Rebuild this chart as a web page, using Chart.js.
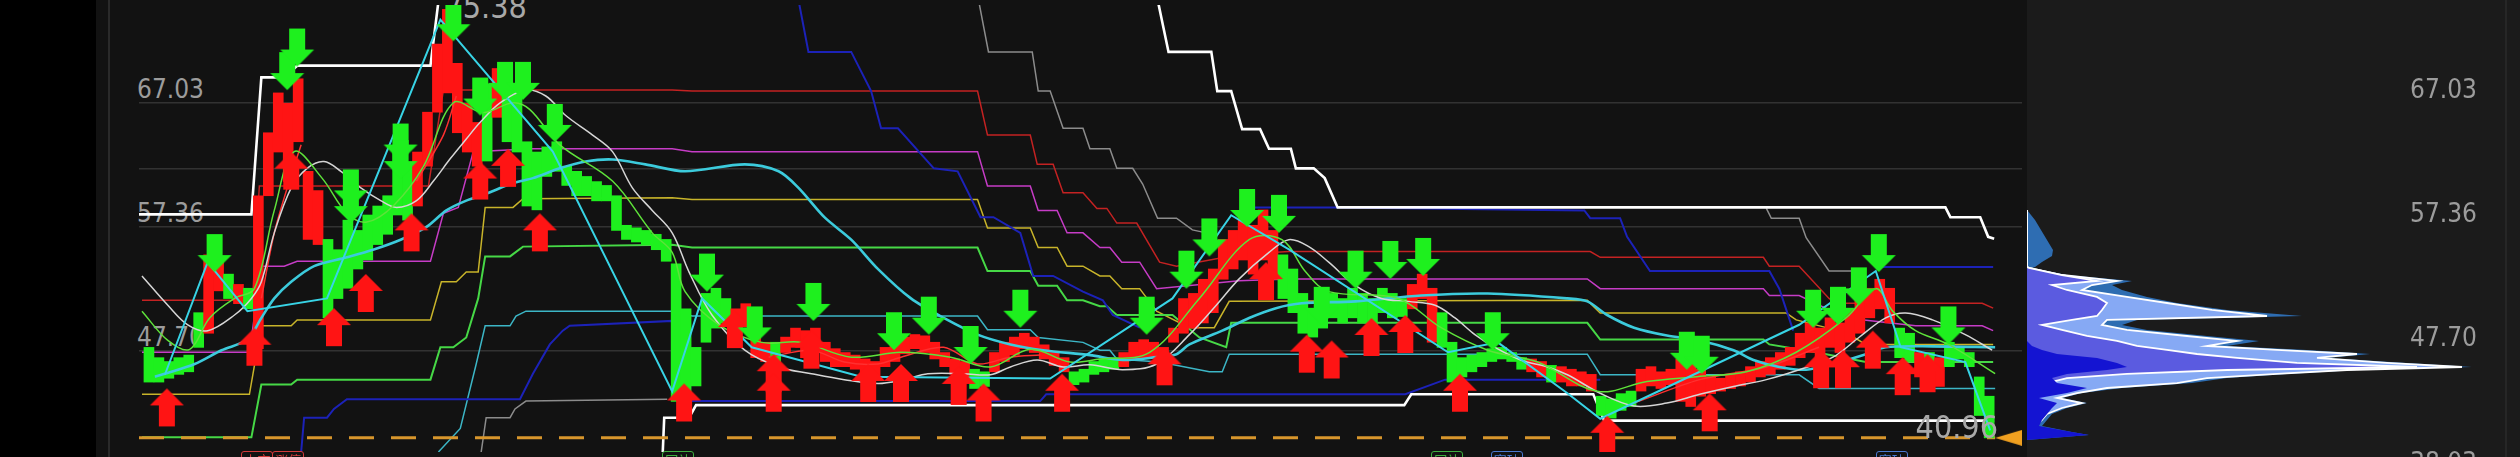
<!DOCTYPE html>
<html>
<head>
<meta charset="utf-8">
<script src="https://cdn.jsdelivr.net/npm/chart.js@4.4.0/dist/chart.umd.min.js"></script>
<style>
  html, body { margin: 0; padding: 0; background: #121212; width: 2520px; height: 457px; overflow: hidden; }
  #band { position: absolute; left: 0; top: 0; width: 96px; height: 457px; background: #000; }
  #edge { position: absolute; left: 108px; top: 0; width: 2px; height: 457px; background: #2a2a2a; }
  #mainBox { position: absolute; left: 134px; top: 0; width: 1893px; height: 457px; z-index: 1; }
  #profBox { position: absolute; left: 2027px; top: 0; width: 493px; height: 457px; background: #1b1b1b; }
  #rline { position: absolute; left: 2505px; top: 0; width: 2px; height: 457px; background: #262626; z-index: 2; }
  .lvl { position: absolute; font-family: "Liberation Sans Narrow", "DejaVu Sans Condensed", Roboto, sans-serif;
         font-size: 26px; line-height: 26px; color: #9c9c9c; white-space: nowrap; z-index: 0; }
  .right { z-index: 2; text-align: right; right: 43px; }
  .big { font-size: 32px; line-height: 32px; color: #a8a8a8; }
  .tag { position: absolute; top: 451px; height: 16px; font: 13px "Noto Sans CJK SC"; line-height: 15px;
         border: 1.5px solid; border-radius: 3px; padding: 0 2px; z-index: 2; }
</style>
</head>
<body>
<div id="band"></div>
<div id="edge"></div>
<div id="profBox"><canvas id="profile"></canvas></div>
<div id="rline"></div>
<div id="mainBox"><canvas id="chart"></canvas></div>
<script>
// price scale shown in the window
const priceMin = 39.86;
const priceMax = 74.64;
const gridLevels = [67.03, 61.93, 57.36, 47.70];
const axisLabels = [67.03, 57.36, 47.70, 38.03];
const peakLabel = { t: 30.7, v: 75.38 };
const lowLabel = { t: 178.6, v: 40.96 };
const lastPrice = 40.96;

// candles, bar n is at t = n + 1
const candleOpen = [
  48.0, 47.2, 46.9, 47.2, 47.4, 50.7, 49.1, 52.4, 53.7, 51.4,
  52.6, 47.9, 59.8, 63.2, 60.9, 64.0, 56.4, 56.0, 56.4, 55.6,
  57.9, 57.1, 58.3, 59.0, 59.8, 63.6, 62.1, 59.0, 62.1, 66.3,
  67.8, 64.7, 63.2, 62.1, 68.5, 65.9, 69.3, 68.2, 64.0, 63.2,
  63.6, 64.0, 62.1, 61.7, 61.3, 60.9, 60.6, 59.8, 57.5, 57.3,
  57.1, 56.8, 56.4, 54.5, 51.0, 48.0, 52.2, 52.6, 51.8, 49.5,
  49.9, 47.2, 46.9, 48.4, 47.6, 48.0, 47.2, 47.6, 46.9, 46.5,
  46.5, 46.3, 45.7, 45.6, 46.5, 46.9, 47.5, 47.9, 47.6, 47.1,
  46.5, 45.9, 45.6, 46.3, 46.1, 46.1, 46.9, 47.4, 47.9, 47.6,
  47.1, 46.6, 46.1, 46.1, 46.3, 46.9, 47.1, 47.2, 46.5, 47.1,
  47.2, 47.2, 46.9, 48.4, 49.1, 49.5, 49.9, 50.7, 53.3, 54.1,
  54.8, 53.7, 54.8, 53.3, 55.2, 54.1, 52.2, 51.0, 51.8, 52.2,
  51.8, 52.6, 52.2, 51.8, 52.6, 52.2, 51.8, 51.0, 51.8, 48.4,
  50.7, 48.4, 47.2, 47.4, 47.6, 47.9, 48.0, 47.6, 47.2, 46.1,
  45.7, 46.6, 45.3, 45.0, 45.0, 44.6, 44.2, 44.0, 44.4, 44.6,
  44.6, 45.0, 44.8, 45.1, 43.8, 43.4, 44.2, 44.4, 44.6, 44.8,
  45.0, 45.3, 45.7, 45.9, 46.3, 46.6, 47.2, 47.6, 47.2, 48.0,
  47.6, 48.4, 49.1, 50.3, 51.0, 49.9, 49.5, 49.1, 45.7, 47.6,
  44.96, 48.4, 48.0, 47.6, 45.7, 44.2
];
const candleClose = [
  45.3, 45.3, 45.6, 45.9, 46.1, 48.0, 55.2, 54.7, 51.8, 52.9,
  51.0, 59.8, 64.7, 67.8, 67.0, 68.9, 61.7, 60.2, 50.3, 51.8,
  52.6, 54.1, 54.8, 56.0, 56.8, 58.3, 57.9, 63.2, 66.3, 71.6,
  74.3, 70.1, 67.0, 65.5, 62.5, 69.7, 64.0, 63.2, 59.0, 58.7,
  61.3, 61.7, 60.6, 59.8, 59.8, 59.4, 59.4, 57.1, 56.4, 56.2,
  56.0, 55.6, 54.7, 43.8, 44.2, 45.0, 48.4, 49.5, 49.9, 51.0,
  51.4, 48.8, 48.4, 46.9, 48.8, 49.5, 49.3, 49.5, 48.4, 47.9,
  47.6, 47.4, 47.1, 46.9, 48.0, 48.4, 48.8, 49.0, 48.9, 48.4,
  47.6, 47.1, 46.9, 44.8, 44.96, 47.6, 48.4, 48.8, 49.1, 48.8,
  48.2, 47.6, 47.2, 45.1, 45.3, 45.9, 46.1, 46.3, 47.6, 48.4,
  48.6, 48.4, 48.0, 49.5, 51.8, 52.2, 53.3, 54.1, 56.4, 57.1,
  58.3, 57.5, 58.7, 57.1, 51.8, 50.7, 49.1, 48.8, 49.5, 50.3,
  49.9, 50.3, 49.9, 49.5, 50.7, 50.3, 50.4, 52.9, 53.7, 52.6,
  48.0, 45.3, 45.7, 46.1, 46.5, 46.9, 47.1, 46.9, 46.3, 47.1,
  46.9, 45.3, 46.5, 46.3, 46.1, 45.9, 42.7, 42.5, 43.1, 43.4,
  46.3, 46.5, 46.1, 46.3, 47.1, 46.9, 46.3, 45.7, 45.6, 45.9,
  46.1, 46.5, 46.9, 47.2, 47.6, 48.0, 49.1, 49.9, 49.5, 50.3,
  49.9, 51.0, 52.2, 52.6, 53.3, 52.6, 47.2, 46.9, 47.6, 46.3,
  47.2, 46.5, 47.1, 46.5, 42.7, 40.96
];

// stepped level lines [t, price]
const redLevel = [[0.3,51.66],[11.4,51.66],[12.1,60.56],[29.1,60.56],[30.6,68.02],[53.6,68.02],[55.6,67.94],[84.3,67.94],
  [85.3,64.52],[89.6,64.52],[90.3,62.24],[91.9,62.24],[92.9,60.03],[94.9,60.03],[96.3,58.81],[97.3,58.81],[98.3,57.67],
  [100.3,57.67],[102.6,54.63],[104.3,54.32],[110.6,55.23],[115.6,55.46],[145.9,55.46],[146.9,55.01],[163.3,55.01],
  [163.9,54.32],[166.9,54.32],[169.9,51.81],[170.6,51.43],[185.3,51.43],[186.4,51.05]];
const magentaLevel = [[0.3,47.62],[11.1,47.62],[12.3,54.32],[14.6,54.32],[15.9,54.70],[29.3,54.70],[30.6,58.43],[32.1,58.89],
  [33.6,63.23],[39.6,63.45],[53.6,63.45],[55.6,63.23],[84.3,63.23],[85.3,60.56],[89.6,60.56],[90.4,58.66],[92.3,58.66],
  [93.3,56.91],[94.9,56.91],[96.6,55.77],[97.6,55.77],[98.8,54.63],[100.6,54.63],[102.3,52.57],[110.6,53.18],[115.6,53.33],
  [145.6,53.33],[146.9,52.57],[163.3,52.57],[163.9,52.04],[166.9,52.04],[171.6,50.29],[178.6,49.68],[185.3,49.68],[186.4,49.30]];
const yellowLevel = [[0.3,44.35],[11.1,44.35],[12.3,49.68],[15.3,49.68],[15.9,50.14],[29.3,50.14],[30.4,53.10],[31.9,53.10],
  [32.9,53.86],[34.1,53.86],[34.8,58.89],[37.6,58.89],[38.6,59.57],[53.6,59.65],[55.6,59.50],[84.3,59.50],[85.3,57.29],
  [89.6,57.29],[90.4,55.77],[92.3,55.77],[93.3,54.32],[94.9,54.32],[96.6,53.56],[97.6,53.56],[98.8,52.57],[100.6,52.57],
  [102.3,50.82],[105.6,49.53],[108.1,49.53],[109.6,51.58],[145.6,51.66],[146.9,50.67],[165.6,50.67],[166.6,50.14],
  [171.6,49.15],[173.6,48.23],[186.4,48.23]];
const greenLevel = [[0.3,41.00],[11.3,41.00],[12.3,45.11],[15.3,45.11],[15.9,45.49],[29.3,45.49],[30.3,48.01],[31.6,48.01],
  [32.9,48.77],[34.1,51.81],[34.8,55.08],[37.3,55.08],[38.6,55.84],[53.6,55.99],[55.6,55.77],[84.3,55.77],[85.3,53.94],
  [89.6,53.94],[90.4,52.80],[92.3,52.80],[93.3,51.66],[94.9,51.66],[96.6,51.20],[97.3,51.20],[98.3,50.52],[103.9,50.52],
  [106.6,48.77],[109.3,48.01],[109.8,49.91],[145.6,49.91],[146.9,48.61],[163.3,48.61],[163.9,48.23],[168.6,47.62],
  [173.6,46.86],[186.4,46.86]];
const tealLevel = [[30.1,39.86],[32.3,41.69],[33.9,46.71],[34.8,49.68],[37.3,49.68],[37.9,50.44],[38.9,50.82],[53.6,50.82],
  [55.6,50.44],[84.3,50.44],[85.3,49.37],[89.6,49.37],[90.4,48.77],[94.9,48.39],[96.6,47.78],[97.6,47.78],[98.3,47.09],
  [102.6,46.86],[107.6,46.10],[108.9,46.10],[109.6,47.47],[145.6,47.47],[146.9,45.87],[166.9,45.87],[168.9,44.81],[186.6,44.81]];
const blueLow = [[16.3,39.86],[16.6,42.53],[18.9,42.53],[19.6,43.21],[20.9,43.97],[38.3,43.97],[39.6,45.95],[41.3,48.23],
  [42.6,49.30],[43.3,49.68],[53.6,50.06],[54.1,43.82],[90.6,43.82],[91.2,44.35],[127.3,44.35],[131.3,45.49],[146.9,45.49]];
const blueHigh = [[66.3,75.02],[67.3,70.99],[71.6,70.99],[73.6,67.94],[74.6,65.05],[76.3,65.05],[79.9,61.93],[82.3,61.70],
  [84.6,58.13],[85.9,58.13],[88.6,56.91],[89.9,53.56],[91.9,53.56],[94.9,52.34],[96.9,51.66],[97.9,50.52],[100.6,49.53],
  [100.7,null],[111.3,58.89],[120.6,58.89],[145.3,58.66],[145.9,58.05],[148.9,58.05],[149.6,56.60],[151.9,53.94],
  [163.9,53.94],[164.9,52.57],[166.3,49.30],[166.4,null],[174.6,54.25],[186.4,54.25]];
const grayLevel = [[34.4,39.86],[34.9,42.53],[37.3,42.53],[37.8,43.21],[38.9,43.82],[53.1,43.97],[53.2,null],
  [84.4,75.02],[85.4,70.99],[89.8,70.99],[90.4,67.94],[91.6,67.94],[92.9,65.05],[94.9,65.05],[95.6,63.45],[97.6,63.45],
  [98.3,61.93],[99.9,61.93],[100.9,60.71],[102.4,58.05],[104.3,58.05],[105.9,57.14],[107.3,56.91],[107.4,null],
  [163.6,58.81],[164.1,58.05],[166.9,58.05],[167.6,56.53],[169.9,53.94],[173.6,53.94]];
const whiteHigh = [[0,58.35],[11.3,58.35],[12.3,69.01],[14.6,69.01],[15.9,69.92],[29.3,69.92],[30.3,76.16],[30.4,null],
  [102.1,76.16],[103.5,70.99],[107.8,70.99],[108.4,67.94],[109.8,67.94],[110.9,64.98],[112.7,64.98],[113.6,63.45],
  [115.8,63.45],[116.3,61.93],[118.1,61.93],[119.2,61.17],[120.5,58.89],[181.6,58.89],[182.1,58.13],[185.1,58.13],
  [185.9,56.60],[186.5,56.45]];
const whiteLow = [[52.6,38.87],[52.8,42.53],[55.3,42.53],[56.0,43.51],[127.2,43.51],[127.9,44.35],[146.2,44.35],
  [147.3,42.30],[186.5,42.30]];

// moving averages [t, price]
const cyanAvg = [[1.6,45.72],[2.6,45.95],[5.6,46.71],[8.3,47.78],[10.9,48.61],[12.3,50.29],[13.6,51.81],[15.3,53.10],
  [17.6,54.32],[20.9,55.01],[23.6,55.62],[26.3,56.38],[28.9,57.37],[30.9,58.66],[32.9,59.42],[34.9,59.95],[37.6,60.79],
  [39.6,61.17],[42.3,61.93],[44.9,62.46],[47.6,62.62],[50.9,62.24],[54.9,61.70],[60.9,62.24],[64.3,61.70],[66.3,60.41],
  [68.9,58.13],[71.6,56.38],[74.3,54.09],[77.6,51.81],[80.9,50.29],[84.3,48.99],[87.6,48.23],[90.9,47.78],[95.6,47.40],
  [98.9,47.02],[102.3,47.24],[104.3,47.47],[105.6,48.23],[108.9,49.30],[111.6,50.29],[114.3,51.05],[116.9,51.43],
  [122.3,51.58],[128.9,52.04],[135.6,52.19],[143.6,51.81],[145.6,51.58],[147.6,50.52],[150.3,49.53],[153.6,48.92],
  [156.9,48.54],[160.3,47.78],[162.3,47.02],[164.9,46.48],[167.6,46.26],[170.3,46.71],[173.6,47.47],[175.6,48.01],
  [180.3,48.08],[186.6,48.01]];
const whiteAvg = [[0.3,53.56],[2.9,51.28],[4.9,49.76],[6.9,49.30],[9.6,50.52],[11.3,51.81],[12.3,53.10],[13.6,56.91],
  [15.3,60.41],[16.9,61.93],[18.6,62.46],[20.3,61.70],[22.3,60.41],[24.3,59.42],[25.9,58.89],[27.9,59.42],[29.6,60.94],
  [31.3,62.69],[32.9,64.21],[34.3,65.51],[36.3,67.03],[38.9,68.02],[40.9,67.56],[42.9,66.04],[45.6,64.52],[47.6,63.23],
  [49.6,60.41],[51.6,58.66],[53.6,56.91],[55.3,53.86],[57.6,50.52],[60.9,47.78],[64.3,46.48],[67.6,45.95],[70.9,45.49],
  [74.3,45.19],[76.9,45.49],[79.3,45.95],[82.9,45.95],[85.6,45.87],[87.6,46.48],[90.3,47.02],[92.9,46.48],[95.6,46.64],
  [98.9,46.26],[102.3,46.71],[105.6,48.99],[108.3,51.28],[110.6,53.33],[113.6,55.39],[115.6,56.38],[117.6,55.84],
  [119.6,54.63],[122.3,52.80],[124.9,51.81],[127.6,51.58],[130.3,51.28],[132.3,50.29],[134.3,48.99],[136.3,48.01],
  [138.9,47.02],[141.6,46.48],[143.6,45.87],[146.9,44.43],[150.3,43.44],[153.6,43.67],[156.9,44.35],[160.3,44.96],
  [163.6,45.49],[166.9,46.26],[170.3,47.24],[172.9,48.77],[175.6,50.29],[177.6,50.67],[180.3,50.14],[183.6,48.99],
  [186.3,47.78]];
const greenAvg = [[0.3,50.82],[2.9,48.54],[5.1,47.85],[7.1,50.29],[9.6,51.81],[11.6,52.57],[13.6,58.66],[15.6,63.23],
  [18.4,61.17],[20.9,58.43],[22.9,57.75],[25.6,59.04],[28.6,62.08],[31.6,67.03],[34.6,66.27],[37.6,67.03],[39.3,66.50],
  [42.3,63.76],[47.6,60.94],[51.6,56.91],[53.6,55.39],[54.9,52.34],[58.3,49.76],[62.6,48.39],[66.6,48.39],[71.6,47.24],
  [76.6,47.62],[81.6,47.24],[85.6,46.48],[89.6,47.85],[93.6,46.86],[96.6,47.09],[101.6,47.62],[106.6,51.81],[111.6,56.38],
  [114.9,56.38],[117.3,53.86],[119.6,52.34],[126.6,51.81],[130.9,49.53],[135.6,47.78],[140.6,46.86],[146.6,44.58],
  [151.6,45.34],[156.6,45.72],[161.6,46.10],[166.6,47.62],[171.6,50.29],[174.6,52.57],[176.3,50.82],[178.6,49.30],
  [181.9,48.23],[186.6,45.95]];
const redAvg = [[12.3,51.81],[13.6,56.91],[14.9,60.41],[16.3,63.76],[16.4,null],[27.9,60.94],[30.6,64.52],[31.9,67.56],
  [32.0,null],[63.3,47.24],[67.6,47.78],[70.9,46.86],[74.3,46.71],[76.6,47.24],[80.9,48.01],[84.3,46.71],[87.6,47.24],
  [90.6,47.40],[90.7,null],[150.3,43.67],[156.9,45.49],[163.6,46.48],[168.9,48.01]];
const zigzag = [[2.6,45.87],[6.9,54.63],[10.9,50.82],[18.9,51.81],[30.3,73.50],[41.6,63.23],[53.6,44.58],[56.6,51.81],
  [61.6,48.01],[72.6,45.72],[91.6,45.57],[103.9,51.81],[109.8,58.28],[115.6,55.62],[131.6,47.62],[136.6,48.39],
  [143.6,44.43],[146.9,42.45],[166.9,49.76],[174.6,53.94],[177.1,48.01],[183.6,46.86],[186.1,41.54]];

// signal arrows, price the arrow points at
const buyArrows = [[2.8,44.81],[11.6,49.53],[15.3,63.23],[19.6,51.05],[22.8,53.71],[27.4,58.43],[34.3,62.46],[37.1,63.45],
  [40.3,58.43],[54.8,45.19],[59.9,50.90],[63.8,47.47],[63.8,45.95],[67.6,49.30],[73.3,46.71],[76.6,46.71],[82.4,46.48],
  [84.9,45.19],[92.8,45.95],[103.1,48.01],[113.3,54.63],[117.4,48.99],[119.9,48.54],[123.9,50.29],[127.3,50.52],
  [132.8,45.95],[147.6,42.68],[157.9,44.43],[169.1,47.78],[171.3,47.78],[174.3,49.30],[177.3,47.24],[179.8,47.47]];
const sellArrows = [[7.6,53.86],[14.9,68.02],[15.9,69.85],[21.3,58.89],[21.3,57.67],[26.3,62.46],[26.3,61.17],[31.6,71.82],
  [34.3,66.04],[36.8,67.26],[38.6,67.26],[41.8,63.99],[57.1,52.34],[61.9,48.23],[67.8,50.06],[75.9,47.78],[79.4,48.99],
  [83.6,46.71],[88.6,49.53],[101.3,48.99],[105.3,52.57],[107.6,55.08],[111.4,57.37],[114.6,56.91],[118.9,49.76],
  [122.3,52.57],[125.8,53.33],[129.1,53.56],[136.1,47.78],[155.6,46.26],[157.1,45.95],[168.3,49.53],[170.8,49.76],
  [172.9,51.27],[174.9,53.86],[181.9,48.23]];

// volume profile by price
const profileLevels = [58.66, 57.90, 57.14, 56.38, 55.62, 55.16, 54.70, 54.32, 54.25, 53.71, 53.26, 52.95, 52.57, 52.04,
  51.58, 51.05, 50.59, 50.29, 49.91, 49.53, 49.07, 48.69, 48.31, 48.01, 47.70, 47.40, 47.02, 46.71, 46.48, 46.18, 45.87,
  45.49, 45.11, 44.73, 44.35, 43.97, 43.59, 43.13, 42.68, 42.22, 41.77, 41.54, 41.16];
const volTotal = [0, 8, 14, 20, 26, 25, 15, 8, 5, 40, 105, 85, 95, 120, 150, 200, 275, 110, 95, 120, 180, 232, 200, 280,
  343, 300, 380, 445, 330, 260, 200, 165, 95, 55, 35, 60, 40, 25, 20, 15, 45, 62, 0];
const volLight = [0, 0, 0, 0, 0, 0, 0, 0, 2, 35, 90, 65, 55, 100, 140, 185, 240, 80, 75, 100, 160, 210, 180, 250, 330, 290,
  360, 435, 320, 250, 180, 150, 80, 50, 30, 55, 35, 20, 15, 8, 0, 0, 0];
const volMid = [0, 0, 0, 0, 0, 0, 0, 0, 2, 35, 70, 25, 40, 70, 80, 75, 70, 45, 15, 35, 60, 90, 110, 140, 170, 210, 270,
  390, 200, 100, 40, 20, 10, 5, 0, 0, 0, 0, 0, 0, 0, 0, 0];
const volDark = [0, 0, 0, 0, 0, 0, 0, 0, 0, 0, 0, 0, 0, 0, 0, 0, 0, 0, 0, 0, 0, 0, 5, 15, 30, 70, 90, 100, 80, 40, 25, 30,
  60, 40, 12, 30, 25, 20, 15, 12, 45, 62, 0];

const upColor = '#ff1414';
const downColor = '#1ef01e';

const toXY = arr => arr.map(p => ({ x: p[0], y: p[1] }));

function lineSet(points, color, width, order, extra) {
  return Object.assign({
    type: 'line',
    data: toXY(points),
    borderColor: color,
    borderWidth: width,
    pointRadius: 0,
    tension: 0,
    fill: false,
    order: order
  }, extra || {});
}

// arrow picture, tip sits in the middle so the point is the price pointed at
function arrowSprite(color, up) {
  const c = document.createElement('canvas');
  c.width = 36;
  c.height = 80;
  const g = c.getContext('2d');
  g.fillStyle = color;
  g.beginPath();
  if (up) {
    g.moveTo(18, 40); g.lineTo(1, 57); g.lineTo(10, 57); g.lineTo(10, 78);
    g.lineTo(26, 78); g.lineTo(26, 57); g.lineTo(35, 57);
  } else {
    g.moveTo(18, 40); g.lineTo(1, 23); g.lineTo(10, 23); g.lineTo(10, 2);
    g.lineTo(26, 2); g.lineTo(26, 23); g.lineTo(35, 23);
  }
  g.closePath();
  g.fill();
  return c;
}

function marker() {
  const c = document.createElement('canvas');
  c.width = 27;
  c.height = 16;
  const g = c.getContext('2d');
  g.fillStyle = '#f0a020';
  g.beginPath();
  g.moveTo(0, 8); g.lineTo(27, 0); g.lineTo(27, 16);
  g.closePath();
  g.fill();
  return c;
}

const candleData = candleOpen.map((o, i) => ({ x: i + 1, y: [o, candleClose[i]] }));
const candleColors = candleOpen.map((o, i) => candleClose[i] > o ? upColor : downColor);

const chart = new Chart(document.getElementById('chart'), {
  type: 'bar',
  data: {
    datasets: [
      {
        type: 'scatter', data: toXY(sellArrows), pointStyle: arrowSprite(downColor, false), order: 1
      },
      {
        type: 'scatter', data: toXY(buyArrows), pointStyle: arrowSprite(upColor, true), order: 1
      },
      {
        type: 'scatter', data: [{ x: 187.95, y: lastPrice }], pointStyle: marker(), order: 1, clip: false
      },
      lineSet(zigzag, '#38d4e6', 2, 2),
      lineSet(greenAvg, '#5ee23a', 1.5, 2, { tension: 0.35 }),
      lineSet(whiteAvg, '#d6d6d6', 1.5, 2, { tension: 0.35 }),
      lineSet(cyanAvg, '#3ccbdc', 2.6, 2, { tension: 0.3 }),
      lineSet(redAvg, '#ff3030', 1.5, 3, { tension: 0.3 }),
      {
        type: 'bar', data: candleData, backgroundColor: candleColors, barThickness: 10,
        grouped: false, order: 4
      },
      lineSet([[0, lastPrice], [186.6, lastPrice]], '#d8962c', 3, 5, { borderDash: [25, 17] }),
      lineSet(whiteHigh, '#ffffff', 2.6, 6),
      lineSet(whiteLow, '#ffffff', 2.6, 6),
      lineSet(grayLevel, '#8c8c8c', 1.5, 7),
      lineSet(blueHigh, '#1c22b8', 2, 7),
      lineSet(blueLow, '#1c22b8', 2, 7),
      lineSet(tealLevel, '#3cb6c6', 1.5, 7),
      lineSet(greenLevel, '#46d846', 2, 7),
      lineSet(yellowLevel, '#c8b42a', 1.5, 7),
      lineSet(magentaLevel, '#c63cc6', 1.5, 7),
      lineSet(redLevel, '#c42222', 1.5, 7)
    ]
  },
  options: {
    responsive: true,
    maintainAspectRatio: false,
    animation: false,
    events: [],
    layout: { padding: 0 },
    plugins: { legend: { display: false }, tooltip: { enabled: false } },
    scales: {
      x: { type: 'linear', min: 0, max: 189.3, display: false, offset: false },
      y: {
        type: 'linear', min: priceMin, max: priceMax, position: 'left',
        ticks: { display: false },
        grid: { color: '#323232', lineWidth: 1.5, drawTicks: false },
        border: { display: false },
        afterBuildTicks: s => { s.ticks = gridLevels.map(v => ({ value: v })); },
        afterFit: s => { s.width = 0; }
      }
    }
  }
});

const profileSet = (vols, color, border, order) => ({
  data: vols.map((v, i) => ({ x: v, y: profileLevels[i] })),
  backgroundColor: color,
  borderColor: border,
  borderWidth: border ? 1.8 : 0,
  pointRadius: 0,
  tension: 0,
  fill: 'origin',
  order: order
});

new Chart(document.getElementById('profile'), {
  type: 'line',
  data: {
    datasets: [
      profileSet(volDark, '#1414d2', null, 1),
      profileSet(volMid, '#5b5be0', '#ffffff', 2),
      profileSet(volLight, '#86a9f4', '#ffffff', 3),
      profileSet(volTotal, '#2e6db2', null, 4)
    ]
  },
  options: {
    indexAxis: 'y',
    responsive: true,
    maintainAspectRatio: false,
    animation: false,
    events: [],
    layout: { padding: 0 },
    plugins: { legend: { display: false }, tooltip: { enabled: false } },
    scales: {
      x: { type: 'linear', min: 0, max: 493, display: false },
      y: { type: 'linear', min: priceMin, max: priceMax, display: false }
    }
  }
});

// price texts
const yPix = v => chart.scales.y.getPixelForValue(v);
const xPix = t => chart.scales.x.getPixelForValue(t) + 134;

function addText(text, cls, css) {
  const d = document.createElement('div');
  d.className = cls;
  d.textContent = text;
  Object.assign(d.style, css);
  document.body.appendChild(d);
}

axisLabels.forEach(v => {
  const top = (yPix(v) - 27) + 'px';
  if (v > priceMin) addText(v.toFixed(2), 'lvl', { left: '137px', top: top });
  addText(v.toFixed(2), 'lvl right', { top: top });
});
addText(peakLabel.v.toFixed(2), 'lvl big', { left: xPix(peakLabel.t) + 'px', top: (yPix(peakLabel.v) - 5) + 'px' });
addText(lowLabel.v.toFixed(2), 'lvl big', { left: xPix(lowLabel.t) + 'px', top: (yPix(lowLabel.v) - 27) + 'px', zIndex: 2 });

// event tags along the bottom edge
const tags = [
  { t: 10.3, text: '上市', color: '#d23a3a' },
  { t: 13.4, text: '涨停', color: '#d23a3a' },
  { t: 52.6, text: '回补', color: '#3fae3f' },
  { t: 129.9, text: '回补', color: '#3fae3f' },
  { t: 135.9, text: '突破', color: '#4a78d0' },
  { t: 174.6, text: '突破', color: '#4a78d0' }
];
tags.forEach(g => {
  addText(g.text, 'tag', { left: xPix(g.t) + 'px', borderColor: g.color, color: g.color });
});
</script>
</body>
</html>
